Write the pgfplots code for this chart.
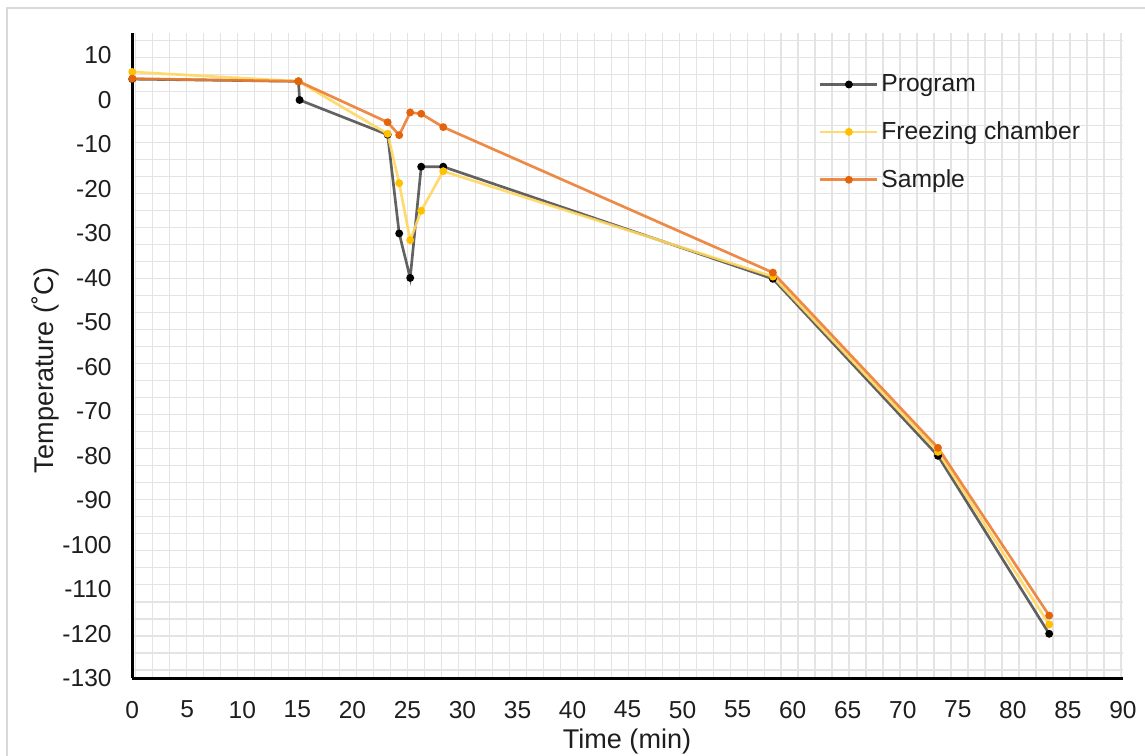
\documentclass[border=0pt]{standalone}
\usepackage{pgfplots}
\pgfplotsset{compat=1.18}
\usepackage{fontspec}
\setmainfont{Liberation Sans}
\definecolor{txt}{RGB}{30,30,30}
\definecolor{gridc}{RGB}{228,228,228}
\definecolor{framec}{RGB}{217,217,217}
\definecolor{ymark}{RGB}{255,192,0}
\definecolor{yline}{RGB}{255,215,95}
\definecolor{omark}{RGB}{228,100,12}
\definecolor{oline}{RGB}{236,125,50}
\definecolor{bline}{RGB}{70,70,70}
\begin{document}
\begin{tikzpicture}
\useasboundingbox (0pt,0pt) rectangle (858.75pt,-567pt);
\draw[framec, line width=1.5pt] (5.25pt,-6pt) rectangle (875pt,-580pt);
\begin{axis}[
  at={(99.2pt,-508.7pt)}, anchor=south west,
  scale only axis, width=743pt, height=483.75pt,
  xmin=0, xmax=90, ymin=-130, ymax=15,
  xtick={0,5,...,90}, ytick={-130,-120,...,10},
  minor xtick={0.31,1.854,3.397,4.941,6.484,8.028,9.571,11.115,12.658,14.202,15.745,17.289,18.832,20.376,21.919,23.463,25.006,26.55,28.093,29.637,31.18,32.724,34.267,35.811,37.354,38.898,40.441,41.985,43.528,45.072,46.615,48.159,49.702,51.246,52.789,54.333,55.876,57.42,58.963,60.507,62.05,63.594,65.137,66.681,68.224,69.768,71.311,72.855,74.398,75.942,77.485,79.029,80.572,82.116,83.659,85.203,86.746,88.29,89.833},
  minor ytick={13.34,9.518,5.696,1.874,-1.948,-5.77,-9.592,-13.414,-17.236,-21.058,-24.88,-28.702,-32.524,-36.346,-40.168,-43.99,-47.812,-51.634,-55.456,-59.278,-63.1,-66.922,-70.744,-74.566,-78.388,-82.21,-86.032,-89.854,-93.676,-97.498,-101.32,-105.142,-108.964,-112.786,-116.608,-120.43,-124.252,-128.074},
  xminorgrids=true, yminorgrids=true,
  minor grid style={gridc, line width=1.2pt},
  major tick length=0pt, minor tick length=0pt,
  axis x line*=bottom, axis y line*=left,
  axis line style={-, black, line width=2.4pt},
  /pgf/number format/assume math mode=true,
  ticklabel style={font=\fontsize{18.4pt}{21pt}\selectfont, text=txt},
  xticklabel style={yshift=-13.5pt},
  yticklabel style={xshift=-12pt},
  clip=false,
  legend style={draw=none, fill=none, at={(axis description cs:0.689,0.944)}, anchor=north west,
    font=\fontsize{18.5pt}{21pt}\selectfont, text=txt, row sep=17pt},
  legend cell align=left,
  legend image code/.code={\draw[mark repeat=2,mark phase=2,#1] plot coordinates {(0cm,0cm) (0.75cm,0cm) (1.5cm,0cm)};},
  every axis plot/.append style={mark=*, mark size=1.9pt},
]
\addplot[bline, line width=2pt, opacity=0.85, mark options={fill=black, draw=black, opacity=1}] coordinates {
(0,4.7) (15.1,4.2) (15.2,0) (23.2,-7.8) (24.25,-30) (25.25,-40) (26.25,-15) (28.25,-15) (58.2,-40.2) (73.2,-80) (83.3,-120)};
\addlegendentry{Program}
\addplot[yline, line width=2pt, opacity=0.9, mark options={fill=ymark, draw=ymark, opacity=1}] coordinates {
(0,6.3) (15.1,4.2) (23.2,-7.6) (24.25,-18.7) (25.25,-31.5) (26.25,-24.9) (28.25,-16) (58.2,-39.7) (73.2,-79.1) (83.3,-117.9)};
\addlegendentry{Freezing chamber}
\addplot[oline, line width=2pt, opacity=0.9, mark options={fill=omark, draw=omark, opacity=1}] coordinates {
(0,4.8) (15.1,4.2) (23.2,-5) (24.25,-7.9) (25.25,-2.8) (26.25,-3.1) (28.25,-6.1) (58.2,-38.8) (73.2,-78.2) (83.3,-115.9)};
\addlegendentry{Sample}
\end{axis}
\node[text=txt, font=\fontsize{20.3pt}{24pt}\selectfont] at (470.25pt,-555.75pt) {Time (min)};
\node[text=txt, rotate=90, font=\fontsize{20.3pt}{24pt}\selectfont] at (33.75pt,-277.5pt) {Temperature (˚C)};
\end{tikzpicture}
\end{document}
